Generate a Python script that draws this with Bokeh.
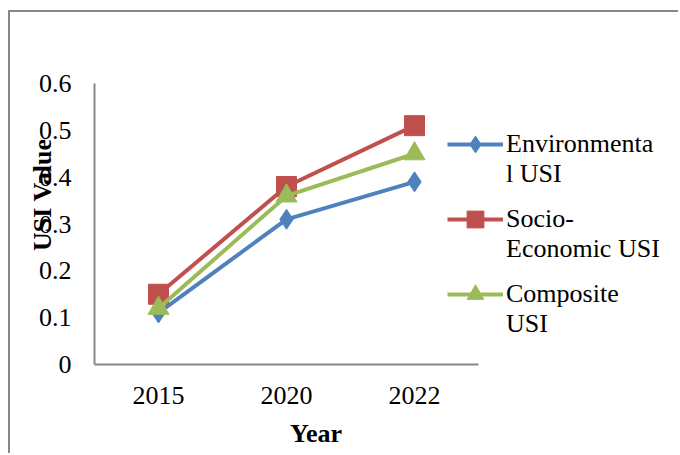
from bokeh.plotting import figure
from bokeh.models import Legend, LegendItem, Range1d
from bokeh.embed import file_html
from bokeh.resources import INLINE

years = ["2015", "2020", "2022"]
environmental = [0.11, 0.31, 0.39]
socio_economic = [0.15, 0.38, 0.51]
composite = [0.12, 0.36, 0.45]
series_names = ["Environmenta\nl USI", "Socio-\nEconomic USI", "Composite\nUSI"]
y_ticks = [0, 0.1, 0.2, 0.3, 0.4, 0.5, 0.6]
x_pos = list(range(len(years)))

FONT = "Liberation Serif"
FS = "26px"
NB = "\u00a0"

# page offset of the canvas (2px border + margin)
OX, OY = 10, 12
W, H = 680 - OX, 455 - OY
FL, FT, FB = 94 - OX, 83 - OY, 364 - OY
PX_PER_CAT = 128.0
x_end = -0.5 + (W - FL) / PX_PER_CAT

p = figure(width=W, height=H, x_range=Range1d(-0.5, x_end), y_range=(0, 0.6),
           output_backend="svg", toolbar_location=None,
           min_border_left=FL, min_border_top=FT, min_border_bottom=H - FB, min_border_right=0)
p.styles = {"border-left": "2px solid #878787", "border-top": "2px solid #878787",
            "margin-left": "8px", "margin-top": "10px"}
p.outline_line_color = None
p.grid.grid_line_color = None

for ax in (p.xaxis[0], p.yaxis[0]):
    ax.axis_line_color = "#878787"
    ax.axis_line_width = 2
    ax.major_tick_line_color = None
    ax.minor_tick_line_color = None
    ax.major_tick_out = 0
    ax.major_tick_in = 0
    ax.major_label_text_font = FONT
    ax.major_label_text_font_size = FS
    ax.major_label_text_color = "black"
    ax.axis_label_text_font = FONT
    ax.axis_label_text_font_size = FS
    ax.axis_label_text_font_style = "bold"
    ax.axis_label_text_color = "black"

p.yaxis.ticker = y_ticks
p.yaxis.major_label_overrides = {0: "0"}
p.yaxis.major_label_standoff = 23
p.yaxis.axis_label = NB * 9 + "USI Value"
p.yaxis.axis_label_standoff = -21

p.xaxis.ticker = x_pos
p.xaxis.major_label_overrides = {i: y for i, y in enumerate(years)}
p.xaxis.bounds = (-0.5, len(years) - 0.5)
p.xaxis.major_label_standoff = 22
p.xaxis.axis_label = "Year" + NB * 22
p.xaxis.axis_label_standoff = 12

colors = ["#4F81BD", "#C0504D", "#9BBB59"]
markers = ["diamond", "square", "triangle"]
sizes = [20, 20, 21]
first_line_y = [144, 219, 294]   # page y of first legend text line
for vals, c, m, s, name, ly in zip([environmental, socio_economic, composite], colors, markers,
                                   sizes, series_names, first_line_y):
    l = p.line(x_pos, vals, line_color=c, line_width=4)
    sc = p.scatter(x_pos, vals, marker=m, size=s, fill_color=c, line_color=c)
    leg = Legend(items=[LegendItem(label=NB + "\n" + name, renderers=[l, sc])],
                 location=(447 - 94, round(364 - (ly + 45))), padding=0, margin=0,
                 border_line_color=None, background_fill_alpha=0,
                 glyph_width=56, glyph_height=42, label_standoff=3,
                 label_text_font=FONT, label_text_font_size=FS, label_text_color="black",
                 label_text_line_height=1.15)
    p.add_layout(leg)

open("out.html", "w").write(file_html(p, INLINE))
